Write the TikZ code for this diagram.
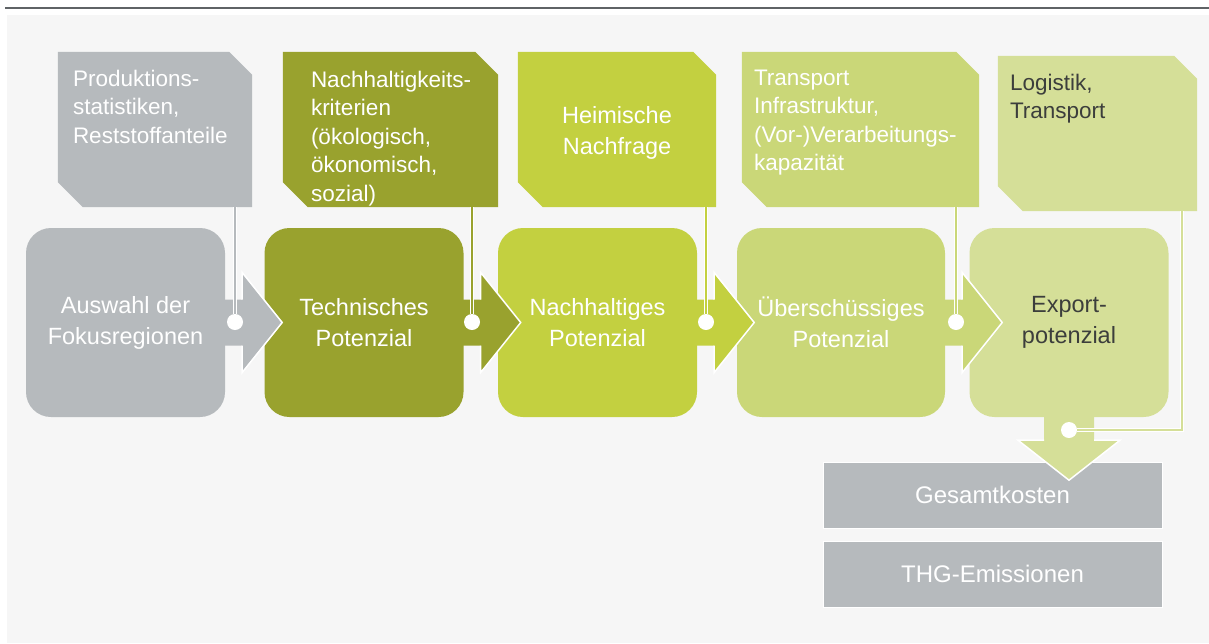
\documentclass[tikz,border=0pt]{standalone}
\usepackage{fontspec}
\setmainfont{Liberation Sans}
\usepackage{tikz}
\usetikzlibrary{calc}
\definecolor{cGray}{RGB}{182,186,189}
\definecolor{cOlive}{RGB}{153,162,46}
\definecolor{cLime}{RGB}{195,208,64}
\definecolor{cLight}{RGB}{202,215,120}
\definecolor{cPale}{RGB}{213,223,152}
\definecolor{cBg}{RGB}{246,246,246}
\definecolor{cRule}{RGB}{95,99,102}
\definecolor{cDark}{RGB}{60,62,60}

\begin{document}
\begin{tikzpicture}[x=1pt, y=-1pt,
	stage/.style={rounded corners=25pt, minimum width=199pt, minimum height=189pt, inner sep=0pt, align=center, text=white, font=\fontsize{23.5}{31}\selectfont},
	infobox/.style={minimum width=198pt, minimum height=155pt, inner sep=0pt},
	infotext/.style={anchor=north west, inner sep=0pt, align=left, text=white, font=\fontsize{22.5}{28.5}\selectfont},
	result/.style={fill=cGray, draw=white, line width=0.6pt, minimum width=339pt, minimum height=66pt, text=white, font=\fontsize{24}{28}\selectfont},
	dot/.style={circle, fill=white, minimum size=16pt, inner sep=0pt},
	feed/.style={draw=white, line width=0.8pt, double distance=1.6pt}]
	\useasboundingbox (0,0) rectangle (1209,643);
	\fill[cBg] (7,15) rectangle (1209,643);
	\draw[cRule, line width=2pt] (5,8) -- (1209,8);
	% inputs above the steps
	\node[infobox, minimum width=194pt] (src1) at (155,129.5) {};
	\node[infobox, minimum width=215pt] (src2) at (390.5,129.5) {};
	\node[infobox] (src3) at (617,129.5) {};
	\node[infobox, minimum width=237pt] (src4) at (860.5,129.5) {};
	\node[infobox, minimum width=199pt] (src5) at (1097.5,133.5) {};
	\foreach \i/\c in {1/cGray, 2/cOlive, 3/cLime, 4/cLight, 5/cPale}
		\fill[\c] (src\i.north west) -- ($(src\i.north east)+(-23,0)$) -- ($(src\i.north east)+(0,23)$)
			-- (src\i.south east) -- ($(src\i.south west)+(25,0)$) -- ($(src\i.south west)+(0,-25)$) -- cycle;
	\node[infotext] (t1) at ($(src1.north west)+(15,18)$) {Produktions-\\statistiken,\\Reststoffanteile};
	\node[infotext] (t2) at ($(src2.north west)+(28,19)$) {Nachhaltigkeits-\\kriterien\\(ökologisch,\\ökonomisch,\\sozial)};
	\node[text=white, align=center, font=\fontsize{23.5}{31}\selectfont] (t3) at ($(src3)+(0,3)$) {Heimische\\Nachfrage};
	\node[infotext] (t4) at ($(src4.north west)+(12,18)$) {Transport\\Infrastruktur,\\(Vor-)Verarbeitungs-\\kapazität};
	\node[infotext, text=cDark] (t5) at ($(src5.north west)+(12,18)$) {Logistik,\\Transport};
	% steps
	\node[stage, fill=cGray] (s1) at (125.5,322.5) {Auswahl der\\Fokusregionen};
	\node[stage, fill=cOlive] (s2) at (364,322.5) {Technisches\\Potenzial};
	\node[stage, fill=cLime] (s3) at (597.5,322.5) {Nachhaltiges\\Potenzial};
	\node[stage, fill=cLight, minimum width=208pt] (s4) at (841,322.5) {Überschüssiges\\Potenzial};
	\node[stage, fill=cPale, text=cDark] (s5) at (1069,322.5) {Export-\\potenzial};
	% results
	\node[result] (k1) at (992.5,495) {Gesamtkosten};
	\node[result] (k2) at (992.5,574) {THG-Emissionen};
	% arrows
	\foreach \n/\c in {s1/cGray, s2/cOlive, s3/cLime, s4/cLight} {
		\fill[\c] ($(\n.east)+(-2,-23)$) -- ++(19,0) -- ++(0,-27) -- ++(40,50) -- ++(-40,50) -- ++(0,-27) -- ++(-19,0) -- cycle;
		\draw[white, line width=1.5pt] ($(\n.east)+(17,-23)$) -- ++(0,-27) -- ++(40,50) -- ++(-40,50) -- ++(0,-27);
	}
	\fill[cPale] ($(s5.south)+(-25,-2)$) -- ++(0,25) -- ++(-26,0) -- ++(51,40) -- ++(51,-40) -- ++(-26,0) -- ++(0,-25) -- cycle;
	\draw[white, line width=1.5pt] ($(s5.south)+(-25,23)$) -- ++(-26,0) -- ++(51,40) -- ++(51,-40) -- ++(-26,0);
	% feeds
	\node[dot] (d1) at (235,322) {};
	\node[dot] (d2) at (472,322) {};
	\node[dot] (d3) at (706,322) {};
	\node[dot] (d4) at (956,322) {};
	\node[dot] (d5) at (1069,430) {};
	\coordinate (b5) at (1182,430);
	\foreach \i/\c in {1/cGray, 2/cOlive, 3/cLime, 4/cLight}
		\draw[feed, double=\c] (src\i.south -| d\i) -- (d\i);
	\draw[feed, double=cPale] (d5) -- (b5) -- (b5 |- src5.south);
\end{tikzpicture}
\end{document}
